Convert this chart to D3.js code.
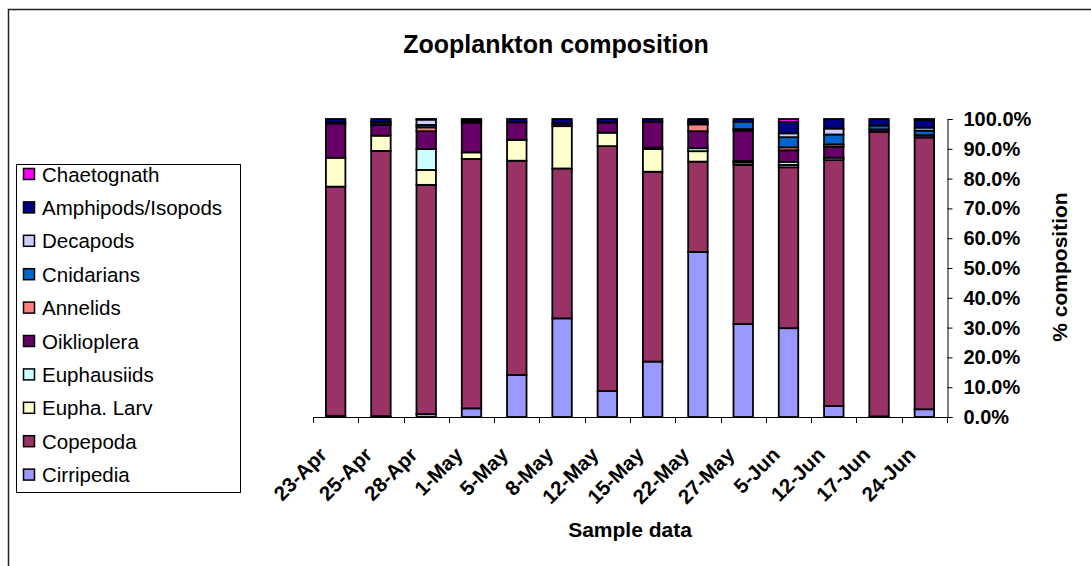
<!DOCTYPE html>
<html>
<head>
<meta charset="utf-8">
<script src="https://cdn.jsdelivr.net/npm/d3@7"></script>
<style>
  html, body { margin: 0; padding: 0; background: #fff; }
  svg { display: block; font-family: "Liberation Sans", Arial, sans-serif; }
</style>
</head>
<body>
<svg id="chart" width="1091" height="566"></svg>
<script>
// Sampling dates
const categories = ["23-Apr", "25-Apr", "28-Apr", "1-May", "5-May", "8-May", "12-May",
                    "15-May", "22-May", "27-May", "5-Jun", "12-Jun", "17-Jun", "24-Jun"];

// Percent composition of each taxon per sample (stacked bottom to top)
const cirripedia  = [0.4, 0.3, 1.0, 2.9, 14.1, 33.1, 8.7, 18.6, 55.4, 31.2, 29.8, 3.7, 0.2, 2.6];
const copepoda    = [76.9, 89.0, 76.9, 83.7, 71.9, 50.3, 82.2, 63.7, 30.3, 53.4, 54.0, 82.5, 95.5, 91.2];
const euphaLarv   = [9.7, 5.1, 5.0, 2.2, 7.0, 14.2, 4.5, 7.6, 3.5, 0.8, 0.8, 0, 0, 0];
const euphausiids = [0, 0, 7.0, 0, 0, 0, 0, 0.5, 1.0, 0.5, 1.0, 0.8, 0, 0];
const oikioplera  = [11.5, 3.6, 6.0, 10.0, 5.9, 0.9, 3.4, 8.7, 5.7, 10.2, 3.9, 3.7, 0.8, 0.8];
const annelids    = [0, 0, 1.3, 0, 0, 0, 0, 0, 2.3, 0.5, 1.0, 0.8, 0, 0];
const cnidarians  = [0.3, 0.8, 0.8, 0, 0, 0, 0, 0, 0.6, 2.5, 3.4, 3.3, 1.3, 1.5];
const decapods    = [0, 0.2, 1.8, 0.6, 0, 0, 0, 0, 0.4, 0, 1.3, 2.0, 0, 1.0];
const amphipods   = [1.2, 1.0, 0.2, 0.6, 1.1, 1.5, 1.2, 0.9, 0.8, 0.9, 3.8, 3.2, 2.2, 2.6];
const chaetognath = [0, 0, 0, 0, 0, 0, 0, 0, 0, 0, 1.0, 0, 0, 0.3];

const seriesNames = ["Cirripedia", "Copepoda", "Eupha. Larv", "Euphausiids", "Oiklioplera",
                     "Annelids", "Cnidarians", "Decapods", "Amphipods/Isopods", "Chaetognath"];
const seriesValues = [cirripedia, copepoda, euphaLarv, euphausiids, oikioplera,
                      annelids, cnidarians, decapods, amphipods, chaetognath];
const seriesColors = ["#9999FF", "#993366", "#FFFFCC", "#CCFFFF", "#660066",
                      "#FF8080", "#0066CC", "#CCCCFF", "#000080", "#FF00FF"];

const yTicks = [0, 0.1, 0.2, 0.3, 0.4, 0.5, 0.6, 0.7, 0.8, 0.9, 1.0];

// Table of rows for the stack layout
const rows = categories.map((c, i) => {
  const r = { date: c };
  seriesNames.forEach((n, k) => { r[n] = seriesValues[k][i]; });
  return r;
});

const svg = d3.select("#chart");

// Outer chart frame
svg.append("rect")
  .attr("x", 8.5).attr("y", 9.5)
  .attr("width", 1200).attr("height", 700)
  .attr("fill", "none").attr("stroke", "#222").attr("stroke-width", 1.5);

const plot = { left: 313, right: 947, top: 119, bottom: 417 };

const x = d3.scaleBand()
  .domain(categories)
  .range([plot.left, plot.right])
  .paddingInner(0.57)
  .paddingOuter(0.285);

const y = d3.scaleLinear().domain([0, 1]).range([plot.bottom, plot.top]);

const stack = d3.stack().keys(seriesNames).offset(d3.stackOffsetExpand);
const layers = stack(rows);

const gBars = svg.append("g");
layers.forEach((layer, k) => {
  gBars.append("g")
    .attr("fill", seriesColors[k])
    .selectAll("rect")
    .data(layer.filter(d => d[1] - d[0] > 0))
    .join("rect")
      .attr("x", d => x(d.data.date))
      .attr("width", x.bandwidth())
      .attr("y", d => y(d[1]))
      .attr("height", d => y(d[0]) - y(d[1]))
      .attr("stroke", "#000")
      .attr("stroke-width", 1.8);
});

// X axis: ticks at category boundaries, rotated labels
const gx = svg.append("g");
gx.append("line")
  .attr("x1", plot.left).attr("x2", plot.right)
  .attr("y1", plot.bottom + 0.5).attr("y2", plot.bottom + 0.5)
  .attr("stroke", "#000").attr("stroke-width", 1);
const step = x.step();
d3.range(categories.length + 1).forEach(i => {
  const xx = Math.round(plot.left + i * step) + 0.5;
  gx.append("line")
    .attr("x1", xx).attr("x2", xx)
    .attr("y1", plot.bottom).attr("y2", plot.bottom + 6)
    .attr("stroke", "#000");
});
gx.selectAll("text.xl")
  .data(categories)
  .join("text")
    .attr("class", "xl")
    .attr("text-anchor", "end")
    .attr("font-size", 20.5)
    .attr("font-weight", "bold")
    .attr("transform", d => `translate(${x(d) + x.bandwidth() / 2 - 7.5},${plot.bottom + 39}) rotate(-45)`)
    .text(d => d);

// Y axis on the right
const yAxis = d3.axisRight(y)
  .tickValues(yTicks)
  .tickSize(5)
  .tickPadding(11)
  .tickFormat(d3.format(".1%"));
const gy = svg.append("g")
  .attr("transform", `translate(${plot.right + 0.5},0)`)
  .call(yAxis);
gy.select(".domain").attr("stroke", "#000");
gy.selectAll(".tick line").attr("stroke", "#000");
gy.selectAll(".tick text")
  .attr("font-size", 20)
  .attr("font-weight", "bold")
  .attr("fill", "#000")
  .attr("font-family", "'Liberation Sans', Arial, sans-serif");

// Titles
svg.append("text")
  .attr("x", 556).attr("y", 53)
  .attr("text-anchor", "middle")
  .attr("font-size", 25).attr("font-weight", "bold")
  .text("Zooplankton composition");

svg.append("text")
  .attr("x", 630).attr("y", 537)
  .attr("text-anchor", "middle")
  .attr("font-size", 21).attr("font-weight", "bold")
  .text("Sample data");

svg.append("text")
  .attr("transform", "translate(1067,267) rotate(-90)")
  .attr("text-anchor", "middle")
  .attr("font-size", 21).attr("font-weight", "bold")
  .text("% composition");

// Legend (top entry is the last series)
const legend = svg.append("g");
legend.append("rect")
  .attr("x", 16.5).attr("y", 164.5)
  .attr("width", 224).attr("height", 328)
  .attr("fill", "#fff").attr("stroke", "#000").attr("stroke-width", 1);
const legendOrder = d3.range(seriesNames.length).reverse();
const li = legend.selectAll("g.item")
  .data(legendOrder)
  .join("g")
    .attr("class", "item")
    .attr("transform", (k, i) => `translate(0,${174.5 + i * 33.4})`);
li.append("rect")
  .attr("x", 23.5).attr("y", -6)
  .attr("width", 11).attr("height", 11)
  .attr("fill", k => seriesColors[k])
  .attr("stroke", "#000").attr("stroke-width", 1.5);
li.append("text")
  .attr("x", 42).attr("y", 7)
  .attr("font-size", 20.5)
  .text(k => seriesNames[k]);
</script>
</body>
</html>
